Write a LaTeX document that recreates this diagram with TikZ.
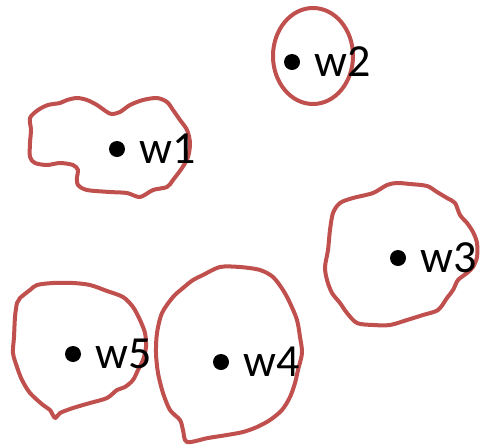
\documentclass[tikz,border=0pt]{standalone}
\usepackage{fontspec}
\setmainfont{Carlito}
\usetikzlibrary{positioning}
\definecolor{blobred}{HTML}{C0504D}
\begin{document}
\begin{tikzpicture}[x=1pt,y=-1pt,
  blob/.style={draw=blobred,line width=4pt,line join=round},
  pt/.style={circle,fill=black,inner sep=0pt,minimum size=16pt},
  lbl/.style={font=\fontsize{46}{54}\selectfont,inner sep=0pt}]
 \useasboundingbox (0,0) rectangle (481,445);
 % regions
 \draw[blob] (313,56) ellipse [x radius=40,y radius=48];
 \draw[blob] plot[smooth cycle,tension=.5] coordinates {(30,118) (38,110) (48,105) (60,103) (67,100) (77,98) (87,100) (97,105) (107,112) (112,114) (120,112) (130,105) (143,100) (157,98) (167,102) (173,110) (180,120) (187,130) (190,143) (188,157) (182,168) (173,180) (167,187) (153,190) (140,197) (127,193) (110,192) (87,190) (78,185) (77,177) (78,170) (73,165) (60,163) (47,165) (35,163) (30,157) (30,143) (31,130)};
 \draw[blob] plot[smooth cycle,tension=.5] coordinates {(340,203) (353,198) (373,193) (387,185) (397,183) (410,184) (427,186) (437,192) (447,198) (455,203) (460,215) (467,223) (473,232) (477,243) (477,257) (473,267) (467,273) (458,280) (453,290) (447,298) (438,310) (423,315) (407,320) (390,325) (373,325) (357,323) (347,313) (340,303) (332,293) (327,280) (325,267) (328,250) (330,230) (333,213)};
 \draw[blob] plot[smooth cycle,tension=.5] coordinates {(203,275) (220,267) (240,267) (260,270) (273,277) (283,290) (290,303) (297,320) (300,337) (302,353) (298,370) (295,383) (290,397) (282,410) (270,420) (257,427) (243,432) (227,435) (208,438) (187,442) (183,430) (180,420) (170,410) (163,393) (158,373) (156,353) (157,333) (162,313) (173,297) (183,288) (193,280)};
 \draw[blob] plot[smooth cycle,tension=.5] coordinates {(20,298) (30,290) (37,285) (53,283) (73,283) (90,285) (107,291) (123,297) (133,307) (140,320) (145,333) (146,347) (143,360) (138,370) (133,380) (125,387) (117,390) (107,398) (90,403) (73,408) (60,413) (55,418) (50,410) (43,405) (30,393) (22,380) (17,367) (13,353) (14,337) (15,317) (17,303)};
 % points and labels
 \foreach \i/\x/\y in {1/117/149,2/292/62,3/398/258,4/221/362,5/73/354}{
  \node[pt] (p\i) at (\x,\y) {};
  \node[lbl,right=14pt of p\i] (w\i) {w\i};}
\end{tikzpicture}
\end{document}
